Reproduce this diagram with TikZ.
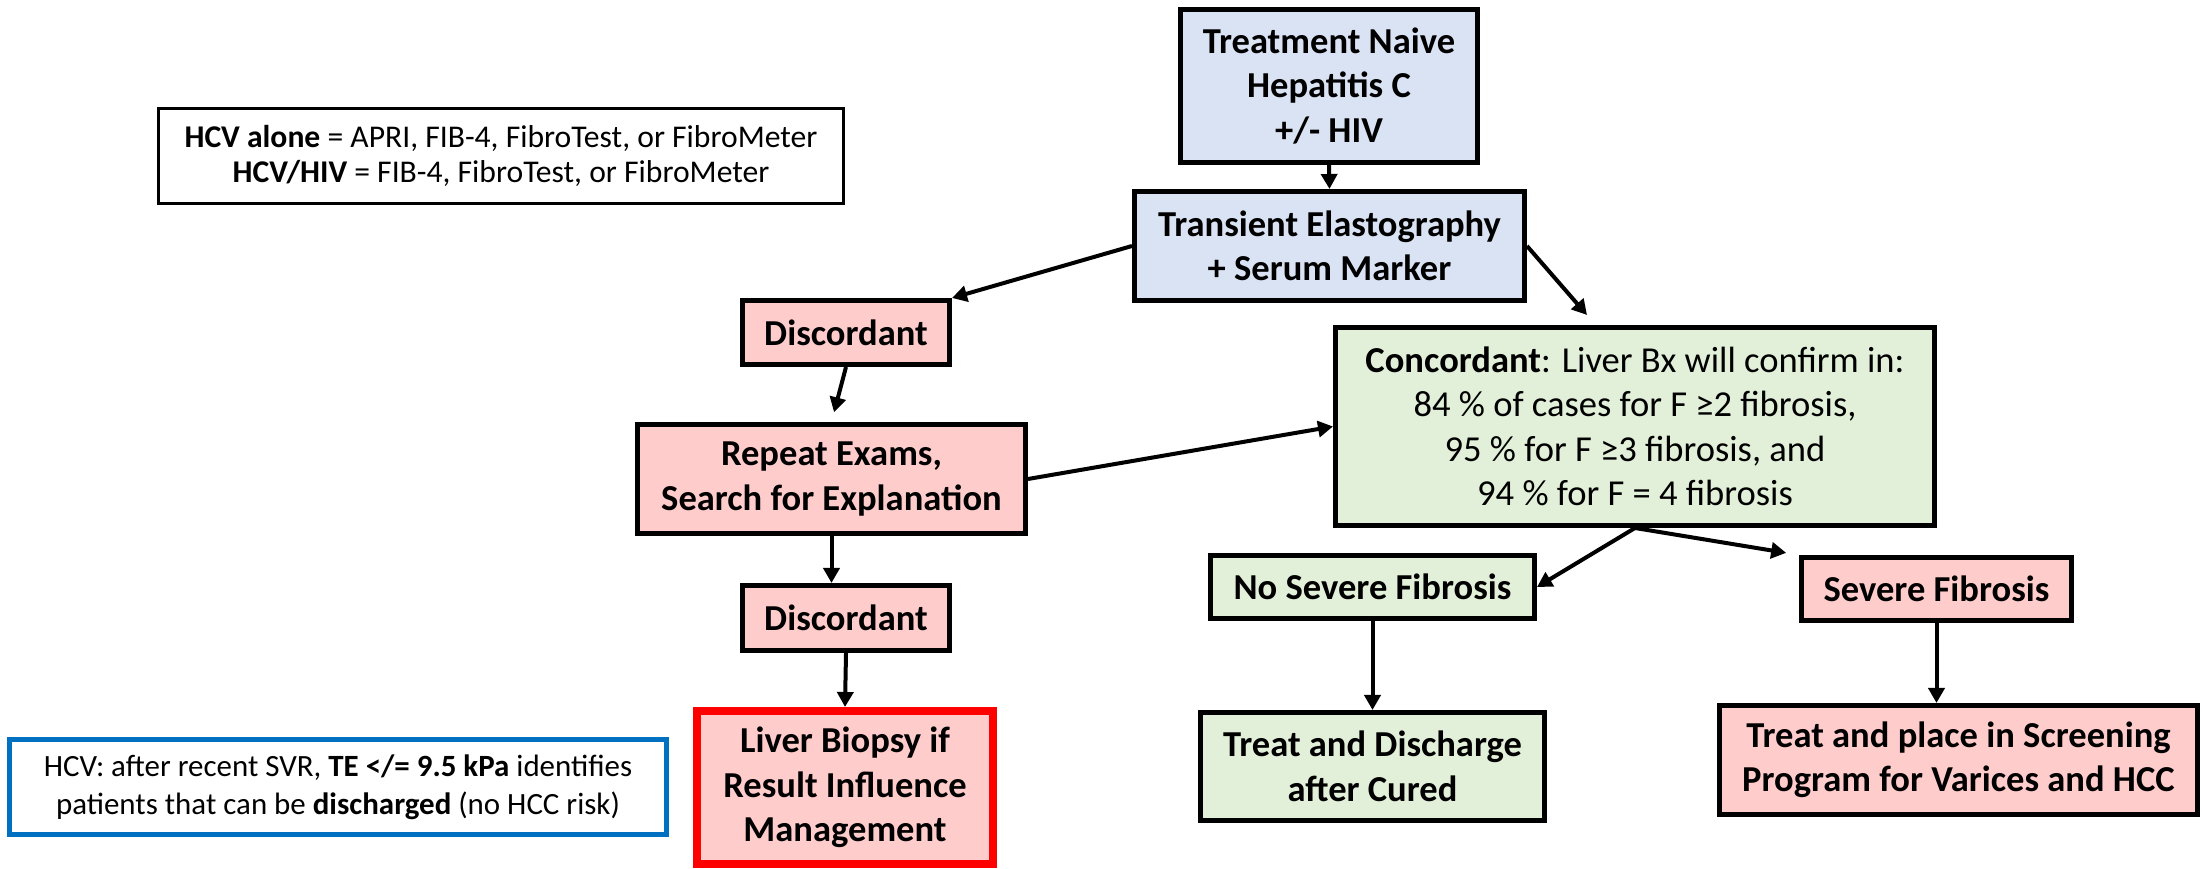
\documentclass[tikz,border=0pt]{standalone}
\usepackage{fontspec}
\setmainfont{Carlito}
\usetikzlibrary{arrows.meta}

\definecolor{tefill}{RGB}{218,227,243}
\definecolor{badfill}{RGB}{255,204,204}
\definecolor{okfill}{RGB}{226,240,217}
\definecolor{noteblue}{RGB}{0,112,192}

\begin{document}
\begin{tikzpicture}
\tikzstyle{flowbox}=[draw, line width=0.05cm, align=center, inner sep=0pt, font=\bfseries\fontsize{10.4}{12.65}\selectfont]
\tikzstyle{bluebox}=[flowbox, fill=tefill]
\tikzstyle{pinkbox}=[flowbox, fill=badfill]
\tikzstyle{greenbox}=[flowbox, fill=okfill]
\tikzstyle{notebox}=[draw, align=center, inner sep=0pt]
\tikzstyle{arrow}=[line width=0.04cm, -{Triangle[length=0.15cm, width=0.16cm]}]

\useasboundingbox (0,0) rectangle (22.02,8.69);

\draw (13.29,7.83) node[bluebox, minimum width=2.97cm, minimum height=1.53cm] (naive) {Treatment Naive\\Hepatitis C\\+/- HIV};
\draw (13.295,6.23) node[bluebox, minimum width=3.90cm, minimum height=1.09cm] (elasto) {Transient Elastography\\+ Serum Marker};
\draw (5.01,7.13) node[notebox, font=\fontsize{9}{9.96}\selectfont, line width=0.03cm, minimum width=6.85cm, minimum height=0.95cm] (tests) {\textbf{HCV alone} = APRI, FIB-4, FibroTest, or FibroMeter\\\textbf{HCV/HIV} = FIB-4, FibroTest, or FibroMeter};
\draw (8.46,5.365) node[pinkbox, minimum width=2.07cm, minimum height=0.64cm] (disc1) {Discordant};
\draw (16.35,4.425) node[greenbox, font=\fontsize{10.4}{12.65}\selectfont, minimum width=5.99cm, minimum height=1.98cm] (concord) {\textbf{Concordant}: Liver Bx will confirm in:\\84 \% of cases for F ≥2 fibrosis,\\95 \% for F ≥3 fibrosis, and\\94 \% for F = 4 fibrosis};
\draw (8.315,3.90) node[pinkbox, minimum width=3.88cm, minimum height=1.09cm] (repeat) {Repeat Exams,\\Search for Explanation};
\draw (8.46,2.51) node[pinkbox, minimum width=2.07cm, minimum height=0.65cm] (disc2) {Discordant};
\draw (8.45,0.815) node[pinkbox, draw=red, line width=0.08cm, minimum width=2.96cm, minimum height=1.53cm] (biopsy) {Liver Biopsy if\\Result Influence\\Management};
\draw (13.725,2.82) node[greenbox, minimum width=3.24cm, minimum height=0.63cm] (nosev) {No Severe Fibrosis};
\draw (19.365,2.80) node[pinkbox, minimum width=2.70cm, minimum height=0.63cm] (sev) {Severe Fibrosis};
\draw (13.725,1.025) node[greenbox, minimum width=3.44cm, minimum height=1.08cm] (discharge) {Treat and Discharge\\after Cured};
\draw (19.585,1.09) node[pinkbox, minimum width=4.78cm, minimum height=1.09cm] (screen) {Treat and place in Screening\\Program for Varices and HCC};
\draw (3.38,0.82) node[notebox, font=\fontsize{8.8}{10.8}\selectfont, draw=noteblue, line width=0.05cm, minimum width=6.57cm, minimum height=0.95cm] (svr) {HCV: after recent SVR, \textbf{TE </= 9.5 kPa} identifies\\patients that can be \textbf{discharged} (no HCC risk)};

\coordinate (concordtop) at (15.87,5.54);

\draw (naive.south) edge[arrow] (elasto.north);
\draw (elasto.west) edge[arrow] (disc1.north east);
\draw (elasto.east) edge[arrow] (concordtop);
\draw (disc1.south) edge[arrow, shorten >=0.1cm] (repeat.north);
\draw (repeat.east) edge[arrow] (concord.west);
\draw (repeat.south) edge[arrow] (repeat.south |- disc2.north);
\draw (disc2.south) edge[arrow] (biopsy.north);
\draw (concord.south) edge[arrow] (nosev.east);
\draw (concord.south) edge[arrow, shorten >=0.13cm] (sev.north west);
\draw (nosev.south) edge[arrow] (discharge.north);
\draw (sev.south) edge[arrow] (sev.south |- screen.north);
\end{tikzpicture}
\end{document}
